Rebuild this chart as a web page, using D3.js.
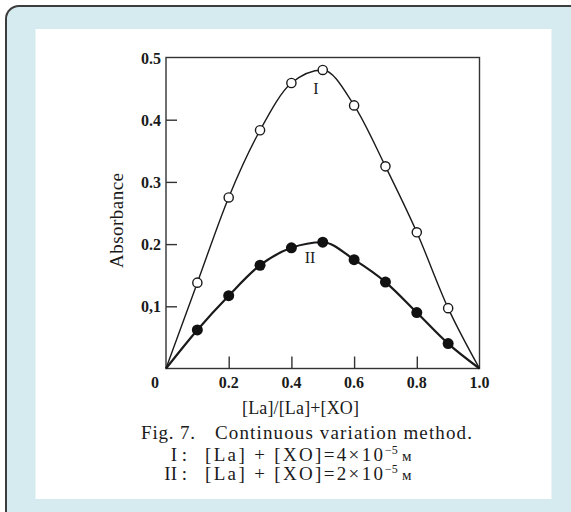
<!DOCTYPE html>
<html>
<head>
<meta charset="utf-8">
<script src="https://cdn.jsdelivr.net/npm/d3@7"></script>
<style>
  html, body { margin: 0; padding: 0; background: #fff; }
  svg { display: block; }
  text { font-family: "Liberation Serif", "DejaVu Serif", serif; fill: #1a1a1a; }
</style>
</head>
<body>
<svg width="571" height="512"></svg>
<script>
// values
const fractions = [0.1, 0.2, 0.3, 0.4, 0.5, 0.6, 0.7, 0.8, 0.9];
const absorbanceI = [0.138, 0.275, 0.383, 0.459, 0.480, 0.423, 0.325, 0.219, 0.097];
const absorbanceII = [0.062, 0.117, 0.166, 0.194, 0.203, 0.175, 0.139, 0.090, 0.040];

const xTickValues = [0, 0.2, 0.4, 0.6, 0.8, 1.0];
const xTickLabels = ["0", "0.2", "0.4", "0.6", "0.8", "1.0"];
const yTickValues = [0.1, 0.2, 0.3, 0.4, 0.5];
const yTickLabels = ["0,1", "0.2", "0.3", "0.4", "0.5"];

const svg = d3.select('svg');

// card + white panel
svg.append('rect')
    .attr('x', 6).attr('y', 6)
    .attr('width', 640).attr('height', 640)
    .attr('rx', 13)
    .style('fill', '#d6ebf0')
    .style('stroke', '#3d3d3d')
    .style('stroke-width', 2);

svg.append('rect')
    .attr('x', 35.5).attr('y', 29)
    .attr('width', 516).attr('height', 470)
    .style('fill', '#fff');

const x = d3.scaleLinear().domain([0, 1]).range([166, 479.5]);
const y = d3.scaleLinear().domain([0, 0.5]).range([368.5, 57.5]);

const g = svg.append('g');

// frame
g.append('rect')
    .attr('x', x(0)).attr('y', y(0.5))
    .attr('width', x(1) - x(0)).attr('height', y(0) - y(0.5))
    .style('fill', 'none')
    .style('stroke', '#333')
    .style('stroke-width', 1.4);

// inward ticks
const xAxis = g.append('g')
    .attr('transform', `translate(0,${y(0)})`)
    .call(d3.axisBottom(x).tickValues([0.2, 0.4, 0.6, 0.8]).tickSize(-12).tickFormat(''));
const yAxis = g.append('g')
    .attr('transform', `translate(${x(0)},0)`)
    .call(d3.axisLeft(y).tickValues([0.1, 0.2, 0.3, 0.4]).tickSize(-11).tickFormat(''));
[xAxis, yAxis].forEach(a => {
    a.select('.domain').remove();
    a.selectAll('line').style('stroke', '#333').style('stroke-width', 1.4);
});

// tick labels
g.selectAll('.xlab')
    .data(xTickValues)
    .enter().append('text')
    .attr('class', 'xlab')
    .attr('x', function (d) { return d === 0 ? x(d) - 11 : x(d); })
    .attr('y', 388)
    .style('text-anchor', 'middle')
    .style('font-size', '16px')
    .style('font-weight', 'bold')
    .text(function (d, i) { return xTickLabels[i]; });

g.selectAll('.ylab')
    .data(yTickValues)
    .enter().append('text')
    .attr('class', 'ylab')
    .attr('x', x(0) - 5)
    .attr('y', function (d) { return y(d) + 6; })
    .style('text-anchor', 'end')
    .style('font-size', '16px')
    .style('font-weight', 'bold')
    .text(function (d, i) { return yTickLabels[i]; });

// axis titles
g.append('text')
    .attr('transform', 'translate(123,220.5) rotate(-90)')
    .style('text-anchor', 'middle')
    .style('font-size', '19px')
    .attr('textLength', 95)
    .text('Absorbance');

g.append('text')
    .attr('x', 300.5).attr('y', 414)
    .style('text-anchor', 'middle')
    .style('font-size', '18px')
    .attr('textLength', 117)
    .text('[La]/[La]+[XO]');

// curves
const line = d3.line()
    .x(function (d) { return x(d[0]); })
    .y(function (d) { return y(d[1]); })
    .curve(d3.curveMonotoneX);

function withEnds(vals) {
    return [[0, 0]].concat(fractions.map((f, i) => [f, vals[i]]), [[1, 0]]);
}

g.append('path')
    .attr('d', line(withEnds(absorbanceII)))
    .style('fill', 'none')
    .style('stroke', '#1a1a1a')
    .style('stroke-width', 2.2);

g.append('path')
    .attr('d', line(withEnds(absorbanceI)))
    .style('fill', 'none')
    .style('stroke', '#1a1a1a')
    .style('stroke-width', 1.4);

g.selectAll('.ptII')
    .data(fractions.map((f, i) => [f, absorbanceII[i]]))
    .enter().append('circle')
    .attr('class', 'ptII')
    .attr('cx', function (d) { return x(d[0]); })
    .attr('cy', function (d) { return y(d[1]); })
    .attr('r', 5.5)
    .style('fill', '#111');

g.selectAll('.ptI')
    .data(fractions.map((f, i) => [f, absorbanceI[i]]))
    .enter().append('circle')
    .attr('class', 'ptI')
    .attr('cx', function (d) { return x(d[0]); })
    .attr('cy', function (d) { return y(d[1]); })
    .attr('r', 4.6)
    .style('fill', '#fff')
    .style('stroke', '#1a1a1a')
    .style('stroke-width', 1.4);

// curve labels
g.append('text').attr('x', 316).attr('y', 94)
    .style('text-anchor', 'middle').style('font-size', '16px').text('I');
g.append('text').attr('x', 310).attr('y', 263)
    .style('text-anchor', 'middle').style('font-size', '16px').text('II');

// caption
const cap = svg.append('g').style('font-size', '19px');
cap.append('text').attr('x', 141).attr('y', 439).attr('textLength', 54).text('Fig. 7.');
cap.append('text').attr('x', 215).attr('y', 439).attr('textLength', 257).text('Continuous variation method.');

function captionLine(label, eq, yy) {
    cap.append('text').attr('x', 187).attr('y', yy).style('text-anchor', 'end').text(label);
    cap.append('text').attr('x', 205).attr('y', yy).attr('textLength', 178).text(eq);
    cap.append('text').attr('x', 385).attr('y', yy - 7).style('font-size', '12px').text('−5');
    cap.append('text').attr('x', 402).attr('y', yy).style('font-size', '15px').text('м');
}
captionLine('I :', '[La] + [XO]=4×10', 460.5);
captionLine('II :', '[La] + [XO]=2×10', 479.5);
</script>
</body>
</html>
